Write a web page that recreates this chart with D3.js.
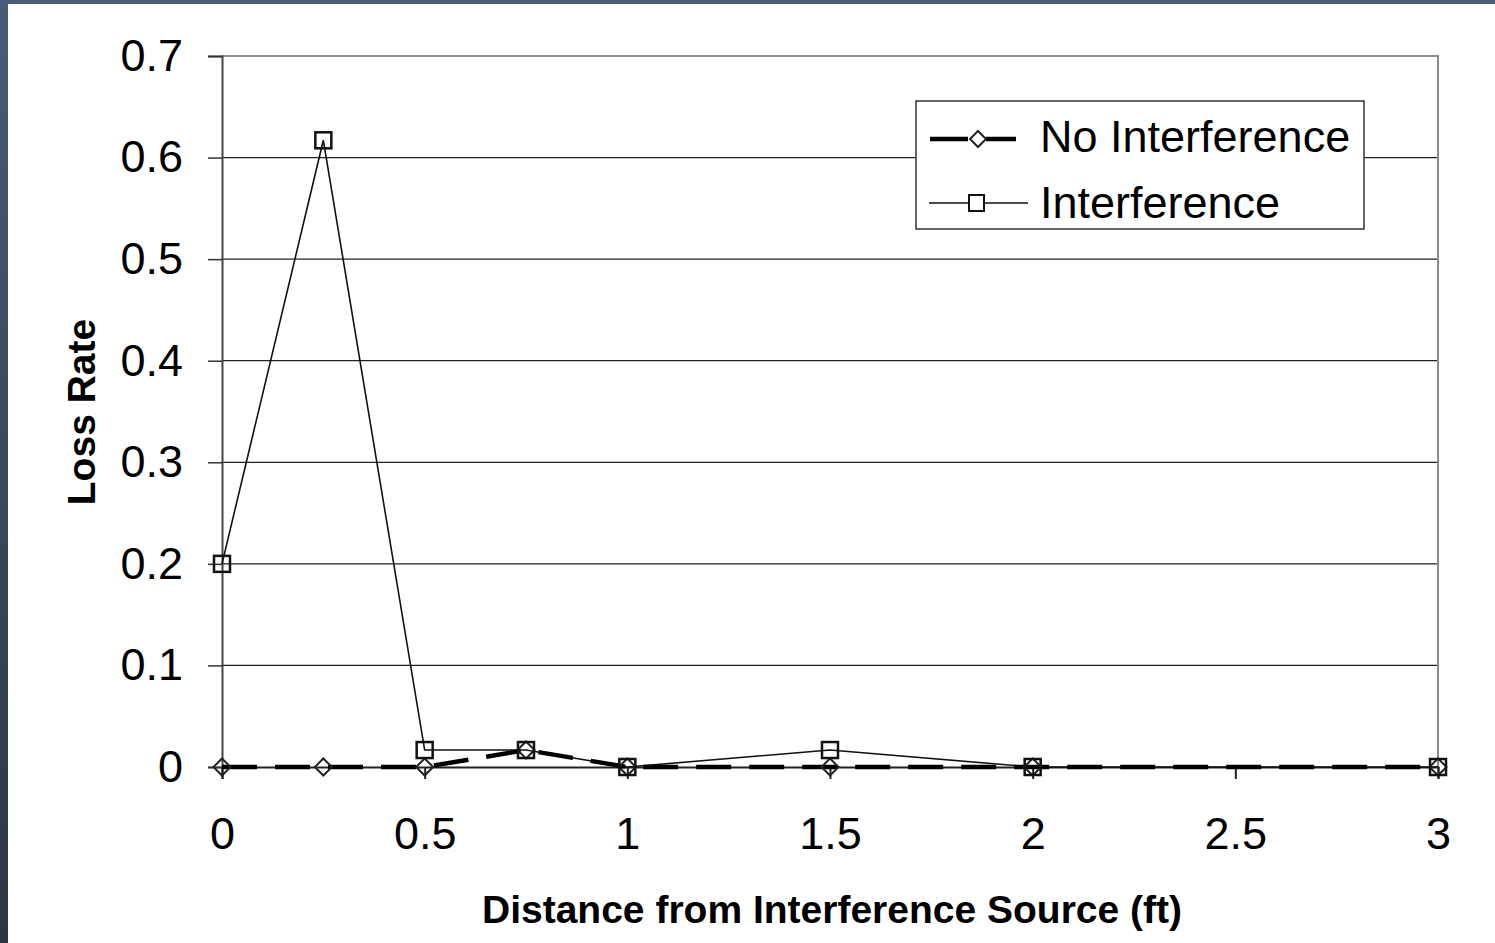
<!DOCTYPE html>
<html>
<head>
<meta charset="utf-8">
<script src="https://cdn.jsdelivr.net/npm/d3@7"></script>
<style>
  html, body { margin: 0; padding: 0; background: #fff; }
  svg { display: block; font-family: "Liberation Sans", Arial, sans-serif; }
</style>
</head>
<body>
<div id="chart"></div>
<script>
var distances = [0, 0.25, 0.5, 0.75, 1, 1.5, 2, 3];
var noInterference = [0, 0, 0, 0.0167, 0, 0, 0, 0];
var interference = [0.2, 0.617, 0.0167, 0.0167, 0, 0.0167, 0, 0];
var xTicks = [0, 0.5, 1, 1.5, 2, 2.5, 3];
var yTicks = [0, 0.1, 0.2, 0.3, 0.4, 0.5, 0.6, 0.7];
var seriesNames = ["No Interference", "Interference"];

var width = 1495,
    height = 943;

var margin = { left: 222, right: 57, top: 56, bottom: 176 };

var svg = d3.select("#chart")
    .append("svg")
    .attr("width", width)
    .attr("height", height);

// slide frame (dark strip left and top)
var grad = svg.append("defs").append("linearGradient")
    .attr("id", "frame")
    .attr("x1", 0).attr("y1", 0).attr("x2", 0).attr("y2", 1);
grad.append("stop").attr("offset", "0%").attr("stop-color", "#475c76");
grad.append("stop").attr("offset", "100%").attr("stop-color", "#2c3641");
svg.append("rect").attr("x", 0).attr("y", 0).attr("width", width).attr("height", height)
    .attr("fill", "url(#frame)");
svg.append("rect").attr("x", 8).attr("y", 4).attr("width", width - 8).attr("height", height - 4)
    .attr("fill", "#fff");

var x = d3.scaleLinear()
    .domain([0, 3])
    .range([margin.left, width - margin.right]);

var y = d3.scaleLinear()
    .domain([0, 0.7])
    .range([height - margin.bottom, margin.top]);

// gridlines
svg.append("g")
    .selectAll("line")
    .data(yTicks.filter(function (d) { return d > 0 && d < 0.7; }))
    .enter()
    .append("line")
    .attr("x1", x(0))
    .attr("x2", x(3))
    .attr("y1", function (d) { return y(d); })
    .attr("y2", function (d) { return y(d); })
    .attr("stroke", "#222")
    .attr("stroke-width", 1.2);

// plot border top & right (gray)
svg.append("path")
    .attr("d", "M" + x(0) + "," + y(0.7) + "H" + x(3) + "V" + y(0))
    .attr("fill", "none")
    .attr("stroke", "#8c8c8c")
    .attr("stroke-width", 2);

// y axis
var yAxis = d3.axisLeft(y)
    .tickValues(yTicks)
    .tickSize(14)
    .tickPadding(25)
    .tickFormat(function (d) { return d === 0 ? "0" : d3.format(".1f")(d); });

var gy = svg.append("g")
    .attr("transform", "translate(" + x(0) + ",0)")
    .call(yAxis);
gy.select(".domain").attr("stroke", "#444").attr("stroke-width", 2);
gy.selectAll(".tick line").attr("stroke", "#333").attr("stroke-width", 1.5);
gy.selectAll(".tick text")
    .attr("font-size", 45)
    .attr("fill", "#000")
    .attr("font-family", "Liberation Sans, Arial, sans-serif");

// x axis
var xAxis = d3.axisBottom(x)
    .tickValues(xTicks)
    .tickSize(12)
    .tickPadding(38)
    .tickFormat(d3.format("~g"));

var gx = svg.append("g")
    .attr("transform", "translate(0," + y(0) + ")")
    .call(xAxis);
gx.select(".domain").attr("stroke", "#222").attr("stroke-width", 2);
gx.selectAll(".tick line").attr("stroke", "#222").attr("stroke-width", 2);
gx.selectAll(".tick text")
    .attr("font-size", 45)
    .attr("fill", "#000")
    .attr("font-family", "Liberation Sans, Arial, sans-serif");

// axis titles
svg.append("text")
    .attr("x", 832)
    .attr("y", 923)
    .attr("text-anchor", "middle")
    .attr("font-size", 39)
    .attr("font-weight", "bold")
    .text("Distance from Interference Source (ft)");

svg.append("text")
    .attr("transform", "translate(95,412) rotate(-90)")
    .attr("text-anchor", "middle")
    .attr("font-size", 39)
    .attr("font-weight", "bold")
    .text("Loss Rate");

// lines
var line = d3.line()
    .x(function (d) { return x(d.x); })
    .y(function (d) { return y(d.y); });

var noData = distances.map(function (d, i) { return { x: d, y: noInterference[i] }; });
var intData = distances.map(function (d, i) { return { x: d, y: interference[i] }; });

svg.append("path")
    .datum(intData)
    .attr("d", line)
    .attr("fill", "none")
    .attr("stroke", "#111")
    .attr("stroke-width", 1.6);

svg.append("path")
    .datum(noData)
    .attr("d", line)
    .attr("fill", "none")
    .attr("stroke", "#000")
    .attr("stroke-width", 4.5)
    .attr("stroke-dasharray", "35,18");

function diamond(g, cx, cy, r) {
    g.append("path")
        .attr("d", "M" + cx + "," + (cy - r) + "L" + (cx + r) + "," + cy + "L" + cx + "," + (cy + r) + "L" + (cx - r) + "," + cy + "Z")
        .attr("fill", "none")
        .attr("stroke", "#222")
        .attr("stroke-width", 2);
}

function square(g, cx, cy, r) {
    g.append("rect")
        .attr("x", cx - r).attr("y", cy - r)
        .attr("width", 2 * r).attr("height", 2 * r)
        .attr("fill", "none")
        .attr("stroke", "#111")
        .attr("stroke-width", 2.5);
}

var markers = svg.append("g");
noData.forEach(function (d) { diamond(markers, x(d.x), y(d.y), 8.5); });
intData.forEach(function (d) { square(markers, x(d.x), y(d.y), 8); });

// legend
var legend = svg.append("g").attr("transform", "translate(916,101)");
legend.append("rect")
    .attr("width", 448)
    .attr("height", 128)
    .attr("fill", "#fff")
    .attr("stroke", "#333")
    .attr("stroke-width", 1.5);

legend.append("line")
    .attr("x1", 14).attr("x2", 100).attr("y1", 38).attr("y2", 38)
    .attr("stroke", "#000").attr("stroke-width", 4.5);
legend.append("rect")
    .attr("x", 52).attr("y", 29).attr("width", 18).attr("height", 18)
    .attr("fill", "#fff");
diamond(legend, 62, 38, 8);

legend.append("line")
    .attr("x1", 13).attr("x2", 112).attr("y1", 102).attr("y2", 102)
    .attr("stroke", "#111").attr("stroke-width", 1.6);
legend.append("rect")
    .attr("x", 53).attr("y", 94).attr("width", 15).attr("height", 16)
    .attr("fill", "#fff").attr("stroke", "#111").attr("stroke-width", 2);

legend.selectAll("text.label")
    .data(seriesNames)
    .enter()
    .append("text")
    .attr("class", "label")
    .attr("x", 124)
    .attr("y", function (d, i) { return 51 + i * 66; })
    .attr("font-size", 45)
    .attr("fill", "#000")
    .text(function (d) { return d; });
</script>
</body>
</html>
